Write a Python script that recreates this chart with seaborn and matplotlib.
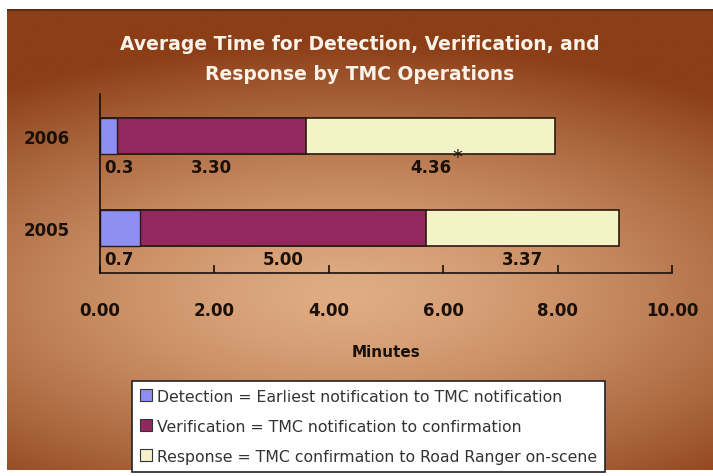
import numpy as np
import pandas as pd
import matplotlib
matplotlib.use("Agg")
import matplotlib.pyplot as plt
import seaborn as sns
from matplotlib.patches import Rectangle

years = ["2006", "2005"]
detection = [0.3, 0.7]
verification = [3.30, 5.00]
response = [4.36, 3.37]
det_labels = ["0.3", "0.7"]
ver_labels = ["3.30", "5.00"]
resp_labels = ["4.36", "3.37"]
legend_labels = [
    "Detection = Earliest notification to TMC notification",
    "Verification = TMC notification to confirmation",
    "Response = TMC confirmation to Road Ranger on-scene",
]
xticks = [0, 2, 4, 6, 8, 10]

sns.set_theme(style="white")
plt.rcParams["font.family"] = ["DejaVu Sans"]

W, H = 713, 477
fig = plt.figure(figsize=(W / 100, H / 100), dpi=100)
fig.patch.set_facecolor("white")

# background gradient panel
bg = fig.add_axes([7 / W, (H - 471) / H, (W - 7) / W, (471 - 10) / H])
ny, nx = 200, 300
yy, xx = np.mgrid[0:1:ny * 1j, 0:1:nx * 1j]
r = np.sqrt(((xx - 0.48) / 0.85) ** 2 + ((yy - 0.62) / 0.55) ** 2)
t = np.clip(r, 0, 1) ** 1.4
light = np.array([224, 172, 130]) / 255
dark = np.array([140, 62, 22]) / 255
img = light[None, None, :] * (1 - t[..., None]) + dark[None, None, :] * t[..., None]
bg.imshow(img, aspect="auto", extent=[0, 1, 0, 1], origin="upper")
bg.plot([0, 1], [1, 1], color="#5a2a10", lw=2)
bg.set_xlim(0, 1)
bg.set_ylim(0, 1)
bg.set_axis_off()

ax = fig.add_axes([100 / W, (H - 274) / H, 572 / W, 179 / H])
ax.set_facecolor("none")

df = pd.DataFrame({"year": years, "det": detection, "ver": verification, "resp": response})
df["cum2"] = df["det"] + df["ver"]
df["cum3"] = df["cum2"] + df["resp"]

c_det, c_ver, c_resp = "#8f8ff2", "#93285f", "#f4f3c8"
edge = "#2a1a10"
sns.barplot(data=df, x="cum3", y="year", order=years, color=c_resp, width=0.4,
            edgecolor=edge, linewidth=1.2, saturation=1, ax=ax)
sns.barplot(data=df, x="cum2", y="year", order=years, color=c_ver, width=0.4,
            edgecolor=edge, linewidth=1.2, saturation=1, ax=ax)
sns.barplot(data=df, x="det", y="year", order=years, color=c_det, width=0.4,
            edgecolor=edge, linewidth=1.0, saturation=1, ax=ax)

lab_kw = dict(fontsize=12, fontweight="bold", color="#1a1008", va="center")
for i in range(len(years)):
    yl = i + 0.34
    ax.text(0.08, yl, det_labels[i], ha="left", **lab_kw)
    ax.text(detection[i] + verification[i] / 2, yl, ver_labels[i], ha="center", **lab_kw)
    ax.text(df["cum2"][i] + response[i] / 2, yl, resp_labels[i], ha="center", **lab_kw)
ax.annotate("*", xy=(df["cum2"][0] + response[0] / 2, 0.30), xytext=(16, 5),
            textcoords="offset points", fontsize=14, color="#1a1008",
            ha="left", va="center")

ax.set_xlim(0, 10)
ax.set_ylim(1.49, -0.457)
ax.set_xticks(xticks)
ax.set_xticklabels([f"{v:.2f}" for v in xticks], fontsize=12, fontweight="bold", color="#1a1008")
ax.tick_params(axis="x", direction="in", length=6, width=1.2, color="#1a1008", pad=20, bottom=True)
ax.tick_params(axis="y", length=0, pad=22)
for lab in ax.get_yticklabels():
    lab.set_fontsize(12)
    lab.set_fontweight("bold")
    lab.set_color("#1a1008")
ax.set_ylabel("")
ax.set_xlabel("Minutes", fontsize=11, fontweight="bold", color="#1a1008", labelpad=18)
for s in ["top", "right"]:
    ax.spines[s].set_visible(False)
for s in ["left", "bottom"]:
    ax.spines[s].set_color("#1a1008")
    ax.spines[s].set_linewidth(1.2)

fig.text(360 / W, 1 - 45 / H, "Average Time for Detection, Verification, and",
         ha="center", va="center", color="#fbf3ea", fontsize=13.5, fontweight="bold")
fig.text(360 / W, 1 - 74 / H, "Response by TMC Operations",
         ha="center", va="center", color="#fbf3ea", fontsize=13.5, fontweight="bold")

# legend box
handles = [Rectangle((0, 0), 1, 1, facecolor=c, edgecolor="#333333", lw=0.8)
           for c in [c_det, c_ver, c_resp]]
leg = fig.legend(handles, legend_labels, loc="upper left",
                 bbox_to_anchor=(132 / W, 1 - 382 / H), frameon=True,
                 fontsize=11.3, handlelength=0.8, handleheight=0.8, handletextpad=0.3,
                 labelspacing=0.95, borderpad=0.5, fancybox=False, borderaxespad=0,
                 framealpha=1)
leg.get_frame().set_edgecolor("#222222")
leg.get_frame().set_facecolor("white")
leg.get_frame().set_linewidth(1.2)
for txt in leg.get_texts():
    txt.set_color("#333333")

fig.savefig("out.png", dpi=100, facecolor=fig.get_facecolor())
